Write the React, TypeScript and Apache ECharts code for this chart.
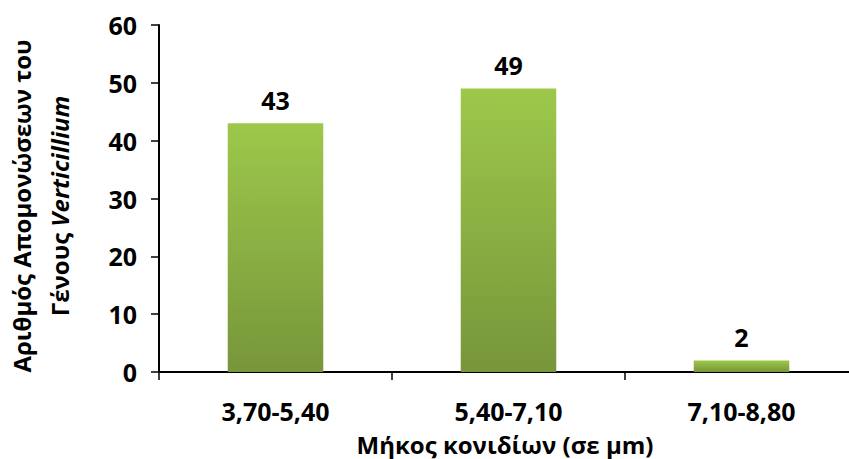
import React, { useEffect, useRef } from "react";
import * as echarts from "echarts";

const categories = ["3,70-5,40", "5,40-7,10", "7,10-8,80"];
const isolates = [43, 49, 2];
const yTicks = { min: 0, max: 60, interval: 10 };

const FONT = "'Open Sans', 'Noto Sans', sans-serif";

export default function App() {
  const ref = useRef<HTMLDivElement>(null);

  useEffect(() => {
    if (!ref.current) return;
    const chart = echarts.init(ref.current, undefined, { renderer: "svg" });
    chart.setOption({
      animation: false,
      backgroundColor: "#ffffff",
      grid: {
        left: 159,
        right: -9,
        top: 25,
        bottom: 87,
        outerBoundsMode: "none",
      },
      xAxis: {
        type: "category",
        data: categories,
        axisLine: { show: true, lineStyle: { color: "#000", width: 2 } },
        axisTick: { show: true, length: 8, lineStyle: { color: "#000", width: 1.5 } },
        axisLabel: {
          margin: 26,
          color: "#000",
          fontFamily: FONT,
          fontWeight: "bold",
          fontSize: 25,
        },
        splitLine: { show: false },
      },
      yAxis: {
        type: "value",
        min: yTicks.min,
        max: yTicks.max,
        interval: yTicks.interval,
        axisLine: { show: true, lineStyle: { color: "#000", width: 2 } },
        axisTick: { show: true, length: 8, lineStyle: { color: "#000", width: 1.5 } },
        axisLabel: {
          margin: 22,
          color: "#000",
          fontFamily: FONT,
          fontWeight: "bold",
          fontSize: 25,
        },
        splitLine: { show: false },
      },
      series: [
        {
          type: "bar",
          data: isolates,
          barWidth: "41%",
          itemStyle: {
            color: new echarts.graphic.LinearGradient(0, 0, 0, 1, [
              { offset: 0, color: "#9dc84b" },
              { offset: 1, color: "#77963a" },
            ]),
          },
          label: {
            show: true,
            position: "top",
            distance: 11,
            color: "#000",
            fontFamily: FONT,
            fontWeight: "bold",
            fontSize: 25,
          },
        },
      ],
      graphic: [
        {
          type: "text",
          x: 40,
          y: 206,
          rotation: Math.PI / 2,
          style: {
            text: "{n|Αριθμός Απομονώσεων του}\n{n|Γένους }{i|Verticillium}",
            align: "center",
            verticalAlign: "middle",
            fill: "#000",
            lineHeight: 38,
            rich: {
              n: { fontFamily: FONT, fontWeight: "bold", fontSize: 24, lineHeight: 38 },
              i: { fontFamily: FONT, fontWeight: "bold", fontStyle: "italic", fontSize: 24, lineHeight: 38 },
            },
          },
        },
        {
          type: "text",
          x: 505,
          y: 444,
          style: {
            text: "Μήκος κονιδίων (σε μm)",
            align: "center",
            verticalAlign: "middle",
            fill: "#000",
            fontFamily: FONT,
            fontWeight: "bold",
            fontSize: 24,
          },
        },
      ],
    });
    return () => chart.dispose();
  }, []);

  return (
    <div
      ref={ref}
      style={{ position: "fixed", left: 0, top: 0, width: 849, height: 459 }}
    />
  );
}
